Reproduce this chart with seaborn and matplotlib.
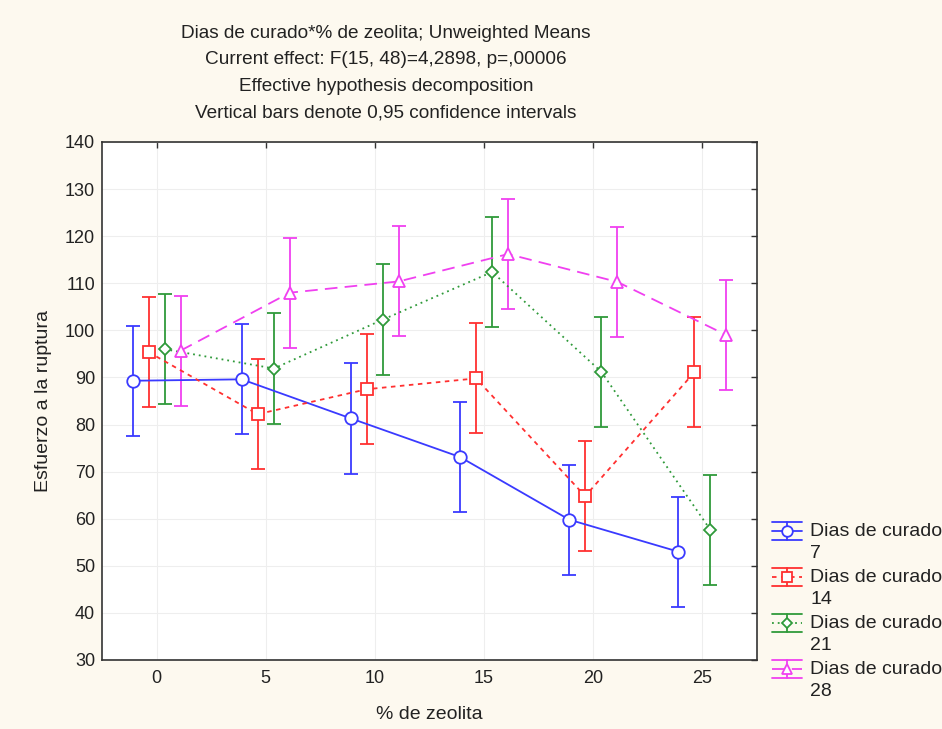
import numpy as np
import pandas as pd
import matplotlib
matplotlib.use("Agg")
import matplotlib.pyplot as plt
from matplotlib.lines import Line2D
import seaborn as sns

zeolita = [0, 5, 10, 15, 20, 25]
dias = ["7", "14", "21", "28"]
mean_7 = [89.3, 89.6, 81.3, 73.1, 59.8, 53.0]
mean_14 = [95.4, 82.2, 87.5, 89.8, 64.8, 91.1]
mean_21 = [96.0, 91.9, 102.3, 112.4, 91.2, 57.6]
mean_28 = [95.7, 108.0, 110.4, 116.2, 110.3, 99.0]
ci_half = [11.7, 11.7, 11.7, 11.7, 11.7, 11.7]

means = {"7": mean_7, "14": mean_14, "21": mean_21, "28": mean_28}
offsets = {"7": -1.1, "14": -0.37, "21": 0.37, "28": 1.1}
colors = {"7": "#3a3aff", "14": "#ff3030", "21": "#2f9a3a", "28": "#f040f0"}
markers = {"7": "o", "14": "s", "21": "D", "28": "^"}
msizes = {"7": 9, "14": 8.5, "21": 6.5, "28": 8.5}
dashes = {"7": None, "14": (2.5, 2.5), "21": (1, 2.2), "28": (7, 4)}

rows = []
for d in dias:
    for z, m in zip(zeolita, means[d]):
        rows.append({"dias": d, "x": z + offsets[d], "y": m})
df = pd.DataFrame(rows)

sns.set_theme(style="white")
plt.rcParams["font.family"] = ["Liberation Sans", "DejaVu Sans"]

W, H = 942, 729
fig = plt.figure(figsize=(W / 100, H / 100), dpi=100, facecolor="#fdf9ef")
ax = fig.add_axes([102 / W, 1 - 660 / H, (757 - 102) / W, (660 - 142) / H])
ax.set_facecolor("white")


def lstyle(d):
    return "-" if dashes[d] is None else (0, dashes[d])


for d in dias:
    sub = df[df["dias"] == d]
    ax.errorbar(sub["x"], sub["y"], yerr=ci_half, fmt="none", ecolor=colors[d],
                elinewidth=1.3, capsize=5, capthick=1.3, zorder=2)
    sns.lineplot(data=sub, x="x", y="y", ax=ax, color=colors[d], linewidth=1.3,
                 linestyle=lstyle(d), marker=markers[d], markersize=msizes[d],
                 markerfacecolor="white", markeredgecolor=colors[d],
                 markeredgewidth=1.3, sort=False, legend=False, zorder=3)

ax.set_xlim(-2.5, 27.5)
ax.set_ylim(30, 140)
ax.set_xticks(zeolita)
ax.set_yticks(np.arange(30, 141, 10))
ax.grid(True, color="#eeeeee", linewidth=0.8)
ax.tick_params(axis="both", which="both", direction="in", length=4, width=1,
               labelsize=13, top=True, right=True, colors="#333333")
ax.tick_params(axis="y", pad=5)
ax.tick_params(axis="x", pad=7)
ax.tick_params(axis="both", labelcolor="#222222")
for s in ax.spines.values():
    s.set_color("#333333")
    s.set_linewidth(1.2)
ax.set_xlabel("% de zeolita", fontsize=14, color="#222222", labelpad=14)
ax.set_ylabel("Esfuerzo a la ruptura", fontsize=14, color="#222222", labelpad=9)

title = ("Dias de curado*% de zeolita; Unweighted Means\n"
         "Current effect: F(15, 48)=4,2898, p=,00006\n"
         "Effective hypothesis decomposition\n"
         "Vertical bars denote 0,95 confidence intervals")
fig.text(386 / W, 1 - 25 / H, title, ha="center", va="top", fontsize=13.7,
         color="#222222", linespacing=1.72)

# legend drawn manually (errorbar-style glyphs)
leg_y = [531, 577, 623, 669]
x0, x1, xm = 772, 802, 787
for d, yc in zip(dias, leg_y):
    fy = lambda p: 1 - p / H
    c = colors[d]
    fig.add_artist(Line2D([x0 / W, x1 / W], [fy(yc), fy(yc)], color=c,
                          linewidth=1.3, linestyle=lstyle(d)))
    for yy in (yc - 9, yc + 9):
        fig.add_artist(Line2D([x0 / W, x1 / W], [fy(yy), fy(yy)], color=c,
                              linewidth=1.3))
    fig.add_artist(Line2D([xm / W, xm / W], [fy(yc - 9), fy(yc + 9)], color=c,
                          linewidth=1.3))
    fig.add_artist(Line2D([xm / W], [fy(yc)], color=c, marker=markers[d],
                          markersize=msizes[d] * 0.85, markerfacecolor="white",
                          markeredgecolor=c, markeredgewidth=1.3, linestyle="none"))
    fig.text(810 / W, fy(yc), "Dias de curado", ha="left", va="center",
             fontsize=14, color="#222222")
    fig.text(810 / W, fy(yc + 22), d, ha="left", va="center",
             fontsize=14, color="#222222")

fig.savefig("out.png", dpi=100, facecolor=fig.get_facecolor())
